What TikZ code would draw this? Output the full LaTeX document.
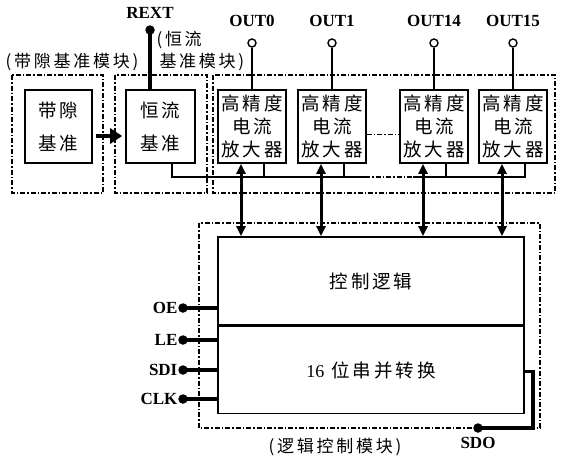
\documentclass[tikz,border=0pt]{standalone}
\usepackage{fontspec}
\setmainfont{Liberation Serif}
\newfontfamily\cjk[LetterSpace=16]{Noto Sans CJK SC}
\usetikzlibrary{arrows.meta}
\newcommand\cjkbox{\cjk\fontsize{18.5}{23}\selectfont}
\newcommand\cjklbl{\cjk\fontsize{17}{20}\selectfont}
\newcommand\latlbl{\rmfamily\bfseries\fontsize{17}{20}\selectfont}
\begin{document}
\begin{tikzpicture}[x=1pt,y=-1pt,
  grp/.style={draw,line width=1.8pt,dash pattern=on 5pt off 2pt on 1.5pt off 2pt},
  blk/.style={draw,line width=1.6pt,minimum width=68pt,minimum height=73pt,inner sep=0pt,align=center,font=\cjkbox},
  wire/.style={line width=1.1pt},
  heavy/.style={line width=3.2pt},
  biarrow/.style={line width=3pt,{Triangle[length=10pt,width=9pt]}-{Triangle[length=10pt,width=9pt]}},
  ocirc/.style={circle,draw,line width=1.4pt,minimum size=8pt,inner sep=0pt},
  bdot/.style={circle,fill,minimum size=9.5pt,inner sep=0pt}]
\useasboundingbox (0,0) rectangle (562,461);
% modules
\draw[grp] (12,75) rectangle (103,193);
\draw[grp] (115,75) rectangle (207,193);
\draw[grp] (213,75) rectangle (555,193);
\draw[grp] (199,223) rectangle (540,428);
\node[font=\cjklbl] (bglbl) at (72,62) {(带隙基准模块)};
\node[font=\cjklbl,anchor=west] (crlbl1) at (153,40) {(恒流};
\node[font=\cjklbl,anchor=west] (crlbl2) at (156,62) {基准模块)};
\node[font=\cjklbl] (lglbl) at (335,447) {(逻辑控制模块)};
% bandgap and current reference
\node[blk,minimum width=67pt] (bg) at (58.5,126.5) {带隙\\[10pt]基准};
\node[blk,minimum width=69pt] (cr) at (160.5,126.5) {恒流\\[10pt]基准};
\draw[line width=4.5pt,-{Triangle[length=12pt,width=15pt]}] ([yshift=-9.5pt,xshift=3pt]bg.east) -- ([yshift=-9.5pt,xshift=-3pt]cr.west);
\node[bdot] (rdot) at (150,30) {};
\node[font=\latlbl] (rext) at (150,13) {REXT};
\draw[heavy] (rdot.center) -- (rdot |- cr.north);
% control logic
\node[draw,line width=1.6pt,minimum width=306pt,minimum height=88pt,inner sep=0pt,font=\cjkbox] (ctl) at (371,281) {控制逻辑};
\node[draw,line width=1.6pt,minimum width=306pt,minimum height=87pt,inner sep=0pt,font=\cjkbox,anchor=north] (conv) at (ctl.south) {{\rmfamily\fontsize{18}{20}\selectfont 16} 位串并转换};
% amplifiers
\foreach \n/\x/\t in {a0/252/0,a1/332/1,a14/434/14,a15/513/15}{
  \node[blk] (\n) at (\x,126.5) {高精度\\电流\\放大器};
  \node[ocirc] (c\n) at (\x,43) {};
  \node[font=\latlbl] (l\n) at (\x,21) {OUT\t};
  \draw[wire] (c\n) -- (\n);
  \draw[biarrow] ([xshift=-11pt]\n.south) -- ([xshift=-11pt]\n.south |- ctl.north);
}
\draw[line width=1.8pt,dash pattern=on 5pt off 2pt on 1.5pt off 2pt] ([yshift=-8pt]a1.east) -- ([yshift=-8pt]a14.west);
% bias bus
\coordinate (dl) at (365,177);
\coordinate (dr) at (413,177);
\draw[wire] ([xshift=11.5pt]cr.south) |- (dl);
\draw[wire,line width=1.6pt,dash pattern=on 5pt off 2pt on 1.5pt off 2pt] (dl) -- (dr);
\draw[wire] (dr) -| ([xshift=12pt]a15.south);
\foreach \n in {a0,a1,a14}
  \draw[wire] ([xshift=12pt]\n.south) -- ([xshift=12pt]\n.south |- dl);
% pins
\foreach \p/\y in {OE/308,LE/340,SDI/370,CLK/399}{
  \node[bdot] (\p) at (183,\y) {};
  \node[font=\latlbl,anchor=east,inner sep=0.5pt] (l\p) at (\p.west) {\p};
  \draw[heavy] (\p.center) -- (\p -| conv.west);
}
\node[bdot] (sdo) at (478,428) {};
\node[font=\latlbl] (lsdo) at (478,443) {SDO};
\draw[heavy] ([yshift=-1.5pt]conv.east) -| (533,428) -- (sdo.center);
\end{tikzpicture}
\end{document}
